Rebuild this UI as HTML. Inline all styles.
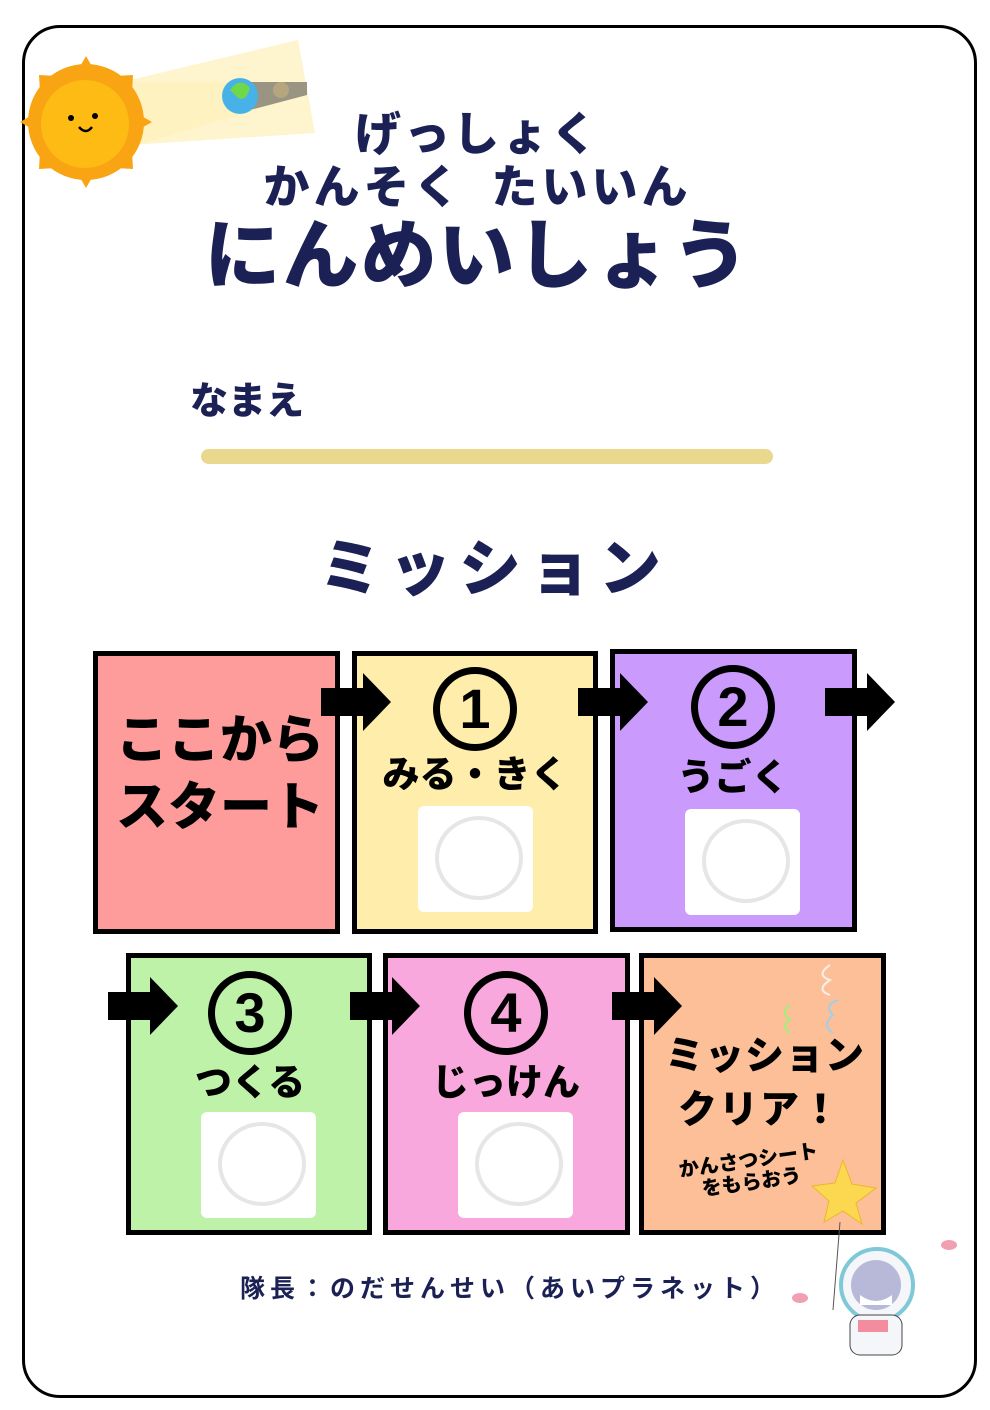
<!DOCTYPE html>
<html><head><meta charset="utf-8"><style>
*{margin:0;padding:0;box-sizing:border-box}
body{width:990px;height:1410px;background:#fff;position:relative;overflow:hidden;font-family:"Liberation Sans","Noto Sans CJK JP",sans-serif}
.a{position:absolute}
.frame{left:22px;top:25px;width:955px;height:1373px;border:3px solid #000;border-radius:38px}
.t{position:absolute;color:#1b2155;font-weight:900;white-space:nowrap;text-align:center}
.box{position:absolute;border:5px solid #000}
.lbl{position:absolute;font-weight:900;color:#000;white-space:nowrap;text-align:center;transform:translateX(-50%)}
.num{position:absolute;width:84px;height:84px;border:7px solid #000;border-radius:50%;font-weight:900;font-size:56px;line-height:70px;text-align:center;color:#000;font-family:"Liberation Sans",sans-serif}
.sq{position:absolute;width:115px;height:106px;background:#fff;border-radius:6px}
.sq::after{content:"";position:absolute;left:17px;top:10px;width:80px;height:76px;border:4px solid #e6e6e6;border-radius:50%}
</style></head><body>
<div class="a frame"></div>

<svg class="a" style="left:0;top:0" width="330" height="200">
<polygon points="130,80 298,40 315,133 130,145" fill="#fdf0b8" opacity=".7"/>
<polygon points="120,82 305,82 305,95 120,150" fill="#fdf0b8" opacity=".6"/>
<polygon points="250,82 307,82 307,95 250,110" fill="#9a9482"/>
<circle cx="281" cy="90" r="8" fill="#b6a680"/>
<circle cx="86" cy="122" r="58" fill="#f9a413"/>
<g fill="#f9a413" transform="translate(86,122)">
<polygon points="0,-66 8,-52 -8,-52"/><polygon points="0,66 8,52 -8,52"/>
<polygon points="-66,0 -52,8 -52,-8"/><polygon points="66,0 52,8 52,-8"/>
<polygon points="47,-47 30,-46 46,-30"/><polygon points="-47,47 -30,46 -46,30"/>
<polygon points="-47,-47 -30,-46 -46,-30"/><polygon points="47,47 30,46 46,30"/>
</g>
<circle cx="85" cy="124" r="44" fill="#fdbb13"/>
<circle cx="71" cy="118" r="3" fill="#000"/><circle cx="95" cy="116" r="3" fill="#000"/>
<path d="M79 127 q7 8 13 0" stroke="#000" stroke-width="2.5" fill="none"/>
<circle cx="240" cy="96" r="18" fill="#46b2e8"/>
<path d="M230 90 q10-14 20 -2 q-4 14 -12 10z" fill="#6fd84a"/>
</svg>

<div class="t" style="left:0;width:955px;top:104px;font-size:46px;line-height:60px;letter-spacing:3px">げっしょく</div>
<div class="t" style="left:0;width:955px;top:157px;font-size:46px;line-height:60px;letter-spacing:4px">かんそく<span style="display:inline-block;width:28px"></span>たいいん</div>
<div class="t" style="left:0;width:955px;top:212px;font-size:76px;line-height:90px;letter-spacing:2px">にんめいしょう</div>

<div class="t" style="left:190px;top:376px;font-size:38px;line-height:52px">なまえ</div>
<div class="a" style="left:201px;top:449px;width:572px;height:15px;background:#e9d88e;border-radius:8px"></div>

<div class="t" style="left:0;width:988px;top:530px;font-size:62px;line-height:80px;letter-spacing:8px">ミッション</div>

<div class="box" style="left:93px;top:651px;width:247px;height:283px;background:#fe9b9b"></div>
<div class="box" style="left:352px;top:651px;width:246px;height:283px;background:#feedab"></div>
<div class="box" style="left:610px;top:649px;width:247px;height:283px;background:#ca9afc"></div>
<div class="box" style="left:126px;top:953px;width:246px;height:282px;background:#bef2a8"></div>
<div class="box" style="left:383px;top:953px;width:247px;height:282px;background:#f8a8dc"></div>
<div class="box" style="left:639px;top:953px;width:247px;height:282px;background:#fdbf98"></div>

<div class="lbl" style="left:220px;top:708px;font-size:52px;line-height:66px">ここから</div>
<div class="lbl" style="left:220px;top:775px;font-size:52px;line-height:66px">スタート</div>

<div class="num" style="left:433px;top:667px">1</div>
<div class="num" style="left:691px;top:665px">2</div>
<div class="num" style="left:208px;top:971px">3</div>
<div class="num" style="left:464px;top:971px">4</div>

<div class="lbl" style="left:475px;top:751px;font-size:37px;line-height:48px">みる・きく</div>
<div class="lbl" style="left:733px;top:754px;font-size:37px;line-height:48px">うごく</div>
<div class="lbl" style="left:250px;top:1059px;font-size:37px;line-height:48px">つくる</div>
<div class="lbl" style="left:506px;top:1059px;font-size:37px;line-height:48px">じっけん</div>

<div class="sq" style="left:418px;top:806px"></div>
<div class="sq" style="left:685px;top:809px"></div>
<div class="sq" style="left:201px;top:1112px"></div>
<div class="sq" style="left:458px;top:1112px"></div>

<div class="lbl" style="left:765px;top:1032px;font-size:39px;line-height:50px;letter-spacing:1px">ミッション</div>
<div class="lbl" style="left:760px;top:1086px;font-size:39px;line-height:50px;letter-spacing:2px">クリア！</div>
<div class="lbl" style="left:750px;top:1150px;font-size:20px;line-height:22px;transform:translateX(-50%) rotate(-8deg)">かんさつシート<br>をもらおう</div>

<svg class="a" style="left:0;top:0" width="990" height="1410">
<defs><polygon id="ar" points="0,15 42,15 42,0 70,29 42,58 42,43 0,43"/></defs>
<use href="#ar" x="321" y="673"/>
<use href="#ar" x="578" y="673"/>
<use href="#ar" x="825" y="673"/>
<use href="#ar" x="108" y="977"/>
<use href="#ar" x="350" y="977"/>
<use href="#ar" x="612" y="977"/>
<g fill="none" stroke-width="2">
<path d="M830 965 q-15 10 0 15 q-15 10 0 15" stroke="#f5f0e8"/>
<path d="M790 1005 q-10 8 0 14 q-10 8 0 14" stroke="#9ef07e"/>
<path d="M838 1000 q-15 5 -5 15 q-12 10 0 18" stroke="#9fd0e8"/>
</g>
<polygon points="843,1160 852,1184 876,1188 856,1203 862,1224 843,1211 824,1222 829,1201 812,1186 835,1183" fill="#fbd850" stroke="#e8b830"/>
<line x1="840" y1="1222" x2="833" y2="1310" stroke="#555"/>
<circle cx="877" cy="1285" r="36" fill="#f4f6fa" stroke="#7ec8d8" stroke-width="4"/>
<circle cx="876" cy="1285" r="25" fill="#b8b8d8"/>
<path d="M860 1295 q16 12 32 0 v10 h-32z" fill="#fff"/>
<rect x="850" y="1315" width="52" height="40" rx="10" fill="#f4f6fa" stroke="#444"/>
<rect x="858" y="1320" width="30" height="12" fill="#f28c9e"/>
<ellipse cx="949" cy="1245" rx="8" ry="5" fill="#f0a0b0"/>
<ellipse cx="800" cy="1298" rx="8" ry="5" fill="#f0a0b0"/>
</svg>

<div class="t" style="left:240px;top:1272px;font-size:25px;line-height:34px;font-weight:700;letter-spacing:5px">隊長：のだせんせい（あいプラネット）</div>
</body></html>
